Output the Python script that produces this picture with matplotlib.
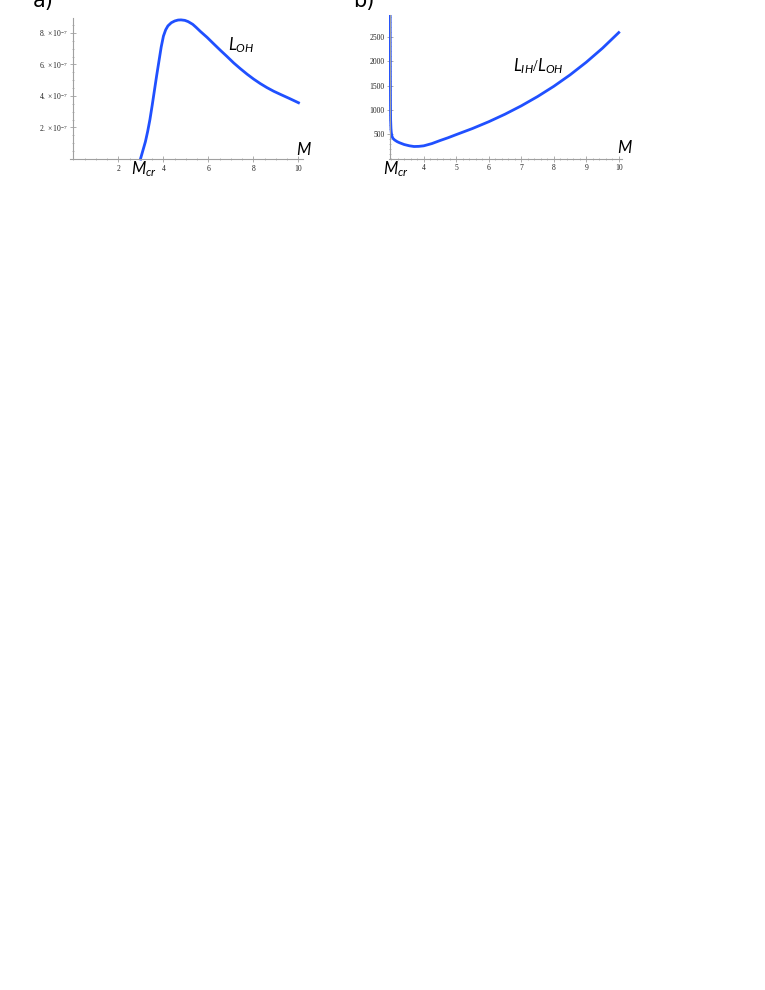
import numpy as np
import matplotlib
matplotlib.use("Agg")
import matplotlib.pyplot as plt
from matplotlib.ticker import MultipleLocator, FixedLocator

plt.rcParams['mathtext.fontset'] = 'custom'
plt.rcParams['mathtext.rm'] = 'Liberation Serif'
plt.rcParams['mathtext.it'] = 'Lato:italic'
plt.rcParams['font.family'] = ['DejaVu Sans']

# panel a: L_OH vs M
m_a = [2.98, 3.0, 3.1, 3.2, 3.3, 3.4, 3.5, 3.6, 3.7, 3.8, 3.9, 4.0, 4.1, 4.2, 4.35,
       4.5, 4.65, 4.78, 4.95, 5.1, 5.3, 5.45, 5.64, 5.94, 6.24, 6.53, 6.83, 7.12,
       7.42, 7.72, 8.01, 8.3, 8.6, 8.9, 9.2, 9.6, 10.0]
l_oh = [0.0, 0.1, 0.6, 1.1, 1.75, 2.5, 3.4, 4.35, 5.3, 6.2, 7.1, 7.8, 8.2, 8.45, 8.65,
        8.76, 8.82, 8.83, 8.8, 8.72, 8.55, 8.36, 8.1, 7.72, 7.3, 6.9, 6.5, 6.1,
        5.73, 5.38, 5.07, 4.79, 4.53, 4.3, 4.1, 3.84, 3.57]
l_oh = [v * 1e-7 for v in l_oh]

# panel b: L_IH / L_OH vs M
m_b = [2.965, 2.968, 2.972, 2.976, 2.98, 2.99, 3.0, 3.02, 3.05, 3.1, 3.18, 3.25, 3.4,
       3.56, 3.7, 3.85, 4.0, 4.25, 4.5, 4.75, 5.0, 5.5, 6.0, 6.5, 7.0, 7.5, 8.0,
       8.5, 9.0, 9.5, 10.0]
ratio = [3100, 2400, 1700, 1100, 800, 620, 540, 462, 418, 385, 350, 328, 290,
         264, 250, 253, 264, 310, 372, 430, 494, 619, 758, 912, 1083, 1273, 1483,
         1717, 1977, 2265, 2585]

a_xticks = [2, 4, 6, 8, 10]
a_yticks = [2e-7, 4e-7, 6e-7, 8e-7]
a_ylabels = [r'$2.\times10^{-7}$', r'$4.\times10^{-7}$', r'$6.\times10^{-7}$', r'$8.\times10^{-7}$']
b_xticks = [4, 5, 6, 7, 8, 9, 10]
b_yticks = [500, 1000, 1500, 2000, 2500]

W, H = 765, 990
fig = plt.figure(figsize=(W / 100, H / 100), dpi=100)

def box(x0, y0, x1, y1):
    return [x0 / W, 1 - y1 / H, (x1 - x0) / W, (y1 - y0) / H]

blue = '#2050ff'
grey = '#a0a0a0'

def style(ax):
    for s in ['top', 'right']:
        ax.spines[s].set_visible(False)
    for s in ['left', 'bottom']:
        ax.spines[s].set_color(grey)
        ax.spines[s].set_linewidth(0.8)
    ax.tick_params(which='both', direction='inout', color=grey, labelsize=5.5,
                   labelcolor='#222222', pad=2)
    ax.tick_params(which='major', length=4, width=0.6)
    ax.tick_params(which='minor', length=2, width=0.5)
    ax.set_facecolor('none')

# ---- a)
ax1 = fig.add_axes(box(70, 18, 303, 159))
ax1.plot(m_a, l_oh, color=blue, lw=2, clip_on=False)
ax1.set_xlim(-0.15, 10.2)
ax1.set_ylim(0, 8.95e-7)
ax1.spines['left'].set_position(('data', 0))
style(ax1)
ax1.xaxis.set_major_locator(FixedLocator(a_xticks))
ax1.xaxis.set_minor_locator(MultipleLocator(0.5))
ax1.set_xticklabels([str(t) for t in a_xticks])
ax1.yaxis.set_major_locator(FixedLocator(a_yticks))
ax1.yaxis.set_minor_locator(MultipleLocator(0.5e-7))
ax1.set_yticklabels(a_ylabels)
ax1.text(6.89, 6.92e-7, r'$L_{OH}$', fontsize=12)
ax1.text(9.91, 0.25e-7, r'$M$', fontsize=12, clip_on=False)
ax1.text(2.58, -0.95e-7, r'$M_{cr}$', fontsize=12, clip_on=False)

# ---- b)
ax2 = fig.add_axes(box(389, 15, 622, 158.7))
ax2.plot(m_b, ratio, color=blue, lw=2)
ax2.set_xlim(2.93, 10.1)
ax2.set_ylim(0, 2945)
ax2.spines['left'].set_position(('data', 2.962))
style(ax2)
ax2.xaxis.set_major_locator(FixedLocator(b_xticks))
ax2.xaxis.set_minor_locator(MultipleLocator(0.2))
ax2.set_xticklabels([str(t) for t in b_xticks])
ax2.yaxis.set_major_locator(FixedLocator(b_yticks))
ax2.yaxis.set_minor_locator(MultipleLocator(100))
ax2.set_yticklabels([str(t) for t in b_yticks])
ax2.text(6.74, 1797, r'$L_{IH}/L_{OH}$', fontsize=12)
ax2.text(9.95, 117, r'$M$', fontsize=12, clip_on=False)
ax2.text(2.73, -313, r'$M_{cr}$', fontsize=12, clip_on=False)

for ax in (ax1, ax2):
    for lab in ax.get_xticklabels() + ax.get_yticklabels():
        lab.set_family('Liberation Serif')

fig.text(33 / W, 1 - 7 / H, 'a)', fontsize=15, va='baseline')
fig.text(353 / W, 1 - 7 / H, 'b)', fontsize=15, va='baseline')

fig.savefig('out.png', dpi=100)
